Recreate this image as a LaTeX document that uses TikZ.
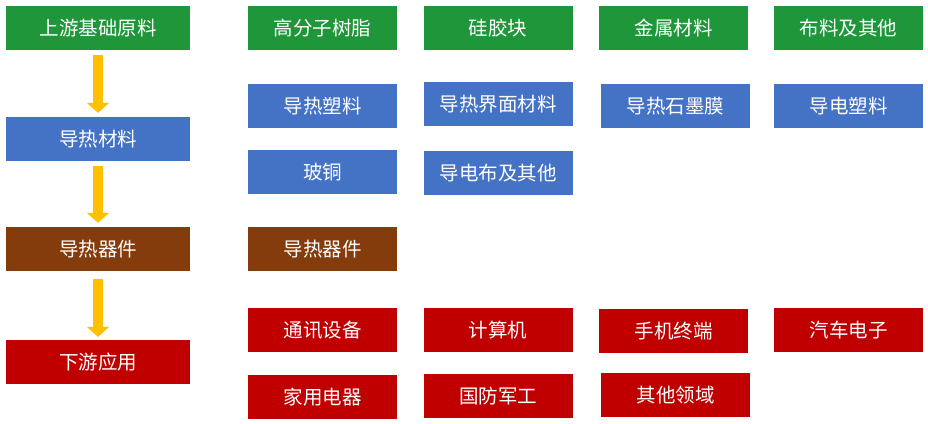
\documentclass[tikz,border=0pt]{standalone}
\usepackage{fontspec}
\newfontfamily\cjk{Noto Sans CJK SC}
\usetikzlibrary{arrows.meta}
\definecolor{boxgreen}{HTML}{1E9639}
\definecolor{boxblue}{HTML}{4472C4}
\definecolor{boxbrown}{HTML}{843C0C}
\definecolor{boxred}{HTML}{C00000}
\definecolor{arrowyellow}{HTML}{FFC000}
\tikzset{
  box/.style={inner sep=0pt, minimum height=44pt, minimum width=149pt, text=white,
    font=\cjk\fontsize{19.5}{22}\selectfont},
  wide/.style={minimum width=184pt},
  raw/.style={box, fill=boxgreen},
  mat/.style={box, fill=boxblue},
  dev/.style={box, fill=boxbrown},
  app/.style={box, fill=boxred},
  flow/.style={arrowyellow, line width=10pt, -{Triangle[width=22pt,length=10pt]},
    shorten <=5pt, shorten >=4pt}
}

\begin{document}
\begin{tikzpicture}[x=1pt,y=-1pt]
\useasboundingbox[fill=white] (0,0) rectangle (928,423);
% left column: the chain
\node (a) [raw, wide] at (98,28) {上游基础原料};
\node (b) [mat, wide] at (98,139) {导热材料};
\node (c) [dev, wide] at (98,249) {导热器件};
\node (d) [app, wide] at (98,362) {下游应用};
\draw[flow] (a)--(b);
\draw[flow] (b)--(c);
\draw[flow, shorten <=8pt, shorten >=3pt] (c)--(d);
% raw materials
\node (a1) [raw] at (322.5,28) {高分子树脂};
\node (a2) [raw] at (498,28) {硅胶块};
\node (a3) [raw] at (673.5,28) {金属材料};
\node (a4) [raw] at (848.5,28) {布料及其他};
% materials
\node (b1) [mat] at (322.5,106) {导热塑料};
\node (b2) [mat] at (498,104) {导热界面材料};
\node (b3) [mat] at (675.5,106) {导热石墨膜};
\node (b4) [mat] at (848.5,106) {导电塑料};
\node (b5) [mat] at (322.5,172) {玻铜};
\node (b6) [mat] at (498,173) {导电布及其他};
% devices
\node (c1) [dev] at (322.5,249) {导热器件};
% applications
\node (d1) [app] at (322.5,330) {通讯设备};
\node (d2) [app] at (498,330) {计算机};
\node (d3) [app] at (673.5,331) {手机终端};
\node (d4) [app] at (848.5,330) {汽车电子};
\node (d5) [app] at (322.5,397) {家用电器};
\node (d6) [app] at (498,396) {国防军工};
\node (d7) [app] at (675.5,395) {其他领域};
\end{tikzpicture}
\end{document}
